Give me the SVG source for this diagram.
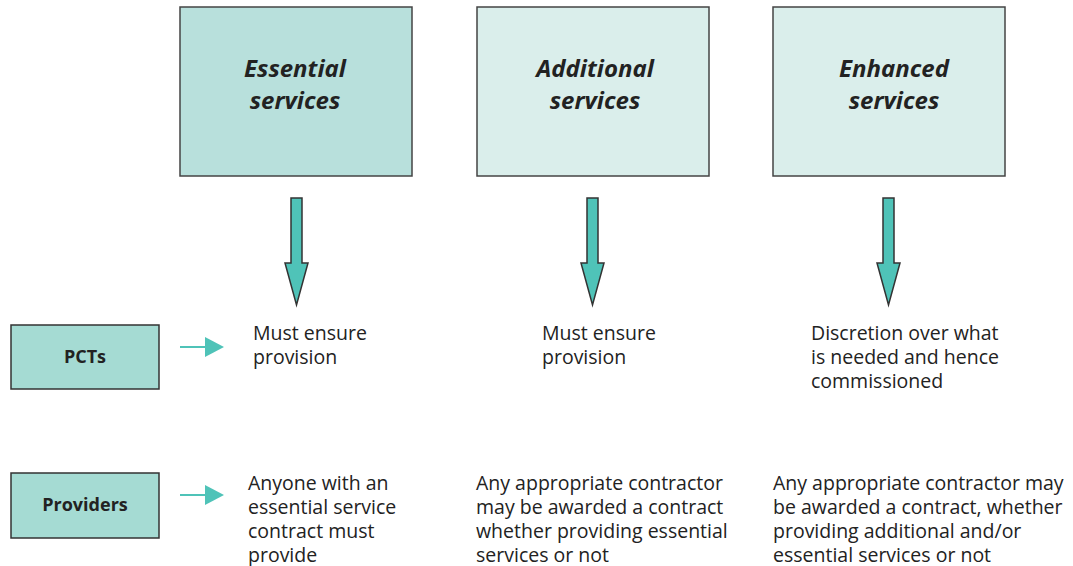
<svg xmlns="http://www.w3.org/2000/svg" width="1073" height="566" viewBox="0 0 1073 566">
<style>
.top{stroke:#444;stroke-width:1.5}
.title{font-family:"Open Sans","Liberation Sans",sans-serif;font-size:24px;font-weight:bold;font-style:italic;fill:#222;text-anchor:middle}
.lab{font-family:"Open Sans","Liberation Sans",sans-serif;font-size:18px;font-weight:bold;fill:#222;text-anchor:middle}
.txt{font-family:"Open Sans","Liberation Sans",sans-serif;font-size:19.5px;fill:#222}
.row{fill:#a5dbd3;stroke:#333;stroke-width:1.5}
.bigarrow{fill:#4fc3b8;stroke:#333;stroke-width:1.5}
.small{stroke:#4fc3b8;stroke-width:2}
</style>
<rect width="1073" height="566" fill="#fff"/>
<g id="essential">
<rect class="top" x="180" y="7" width="232" height="169" fill="#b8e0dc"/>
<text class="title" x="295" y="77">Essential</text>
<text class="title" x="295" y="109">services</text>
</g>
<g id="additional">
<rect class="top" x="477" y="7" width="232" height="169" fill="#daeeeb"/>
<text class="title" x="595" y="77">Additional</text>
<text class="title" x="595" y="109">services</text>
</g>
<g id="enhanced">
<rect class="top" x="773" y="7" width="232" height="169" fill="#daeeeb"/>
<text class="title" x="894" y="77">Enhanced</text>
<text class="title" x="894" y="109">services</text>
</g>
<g id="pcts">
<rect class="row" x="11" y="325" width="148" height="64"/>
<text class="lab" x="85" y="363">PCTs</text>
</g>
<g id="providers">
<rect class="row" x="11" y="473" width="148" height="65"/>
<text class="lab" x="85" y="511">Providers</text>
</g>
<g id="connectors">
<path class="bigarrow" d="M291,198 H302 V263 H308 L296.5,305 L285,263 H291 Z"/>
<path class="bigarrow" d="M587,198 H598 V263 H604 L592.5,305 L581,263 H587 Z"/>
<path class="bigarrow" d="M883,198 H894 V263 H900 L888.5,305 L877,263 H883 Z"/>
<line class="small" x1="180" y1="347" x2="206" y2="347"/>
<polygon points="205,337 224,347 205,357" fill="#4fc3b8"/>
<line class="small" x1="180" y1="495" x2="206" y2="495"/>
<polygon points="205,485 224,495 205,505" fill="#4fc3b8"/>
</g>
<g id="texts" class="txt">
<text x="253" y="340">Must ensure</text>
<text x="253" y="364">provision</text>
<text x="542" y="340">Must ensure</text>
<text x="542" y="364">provision</text>
<text x="811" y="340">Discretion over what</text>
<text x="811" y="364">is needed and hence</text>
<text x="811" y="388">commissioned</text>
<text x="248" y="490">Anyone with an</text>
<text x="248" y="514">essential service</text>
<text x="248" y="538">contract must</text>
<text x="248" y="562">provide</text>
<text x="476" y="490">Any appropriate contractor</text>
<text x="476" y="514">may be awarded a contract</text>
<text x="476" y="538">whether providing essential</text>
<text x="476" y="562">services or not</text>
<text x="773" y="490">Any appropriate contractor may</text>
<text x="773" y="514">be awarded a contract, whether</text>
<text x="773" y="538">providing additional and/or</text>
<text x="773" y="562">essential services or not</text>
</g>
</svg>
